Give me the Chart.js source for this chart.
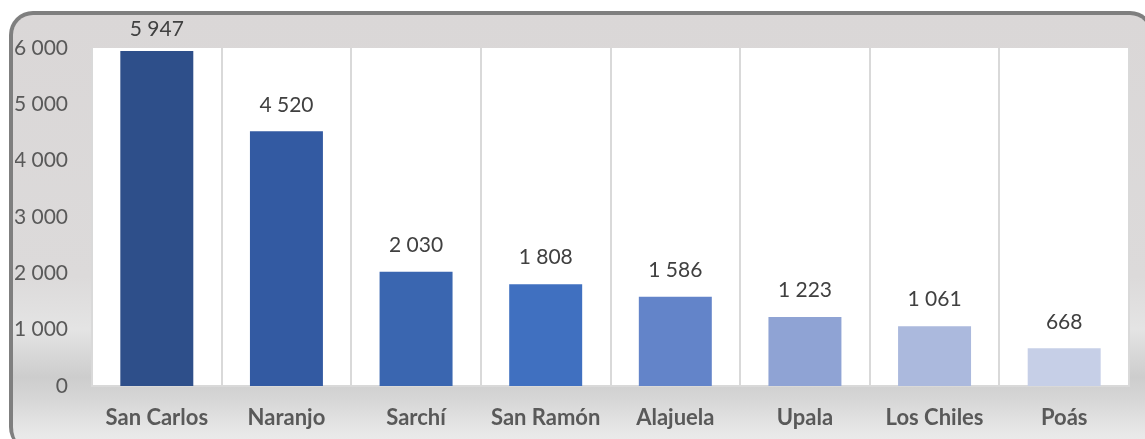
<!DOCTYPE html>
<html>
<head>
<meta charset="utf-8">
<script src="https://cdn.jsdelivr.net/npm/chart.js@4/dist/chart.umd.min.js"></script>
<style>
  html, body { margin: 0; padding: 0; background: #ffffff; }
  body { width: 1145px; height: 439px; overflow: hidden; position: relative; }
  #marco {
    position: absolute; left: 9px; top: 11px; width: 1145px; height: 440px;
    box-sizing: border-box;
    border-top: 4px solid #7f7f7f; border-left: 4px solid #7f7f7f; border-right: 4px solid #7f7f7f;
    border-radius: 24px 24px 0 24px;
    background: linear-gradient(to bottom, #dad7d7 0%, #dcdada 60%, #e4e4e4 72%, #cdcdcd 83%, #d6d6d6 88%, #e8e8e8 96%, #eeeeee 100%);
  }
  #lienzo { position: absolute; left: 0; top: 0; }
</style>
</head>
<body>
<div id="marco"></div>
<canvas id="lienzo" width="1145" height="439"></canvas>
<script>
const cantones = ["San Carlos", "Naranjo", "Sarchí", "San Ramón", "Alajuela", "Upala", "Los Chiles", "Poás"];
const valores = [5947, 4520, 2030, 1808, 1586, 1223, 1061, 668];
const colores = ["#2e4f8a", "#335aa2", "#3a66b0", "#4070c0", "#6384c9", "#8fa3d4", "#abb9dd", "#c6cfe7"];
const marcasY = [0, 1000, 2000, 3000, 4000, 5000, 6000];

function conEspacios(n) {
  return String(n).replace(/\B(?=(\d{3})+(?!\d))/g, " ");
}

const fondoBlanco = {
  id: "fondoBlanco",
  beforeDraw(chart) {
    const a = chart.chartArea;
    const ctx = chart.ctx;
    ctx.save();
    ctx.fillStyle = "#ffffff";
    ctx.fillRect(a.left, a.top, a.right - a.left, a.bottom - a.top);
    ctx.restore();
  }
};

const etiquetas = {
  id: "etiquetas",
  afterDatasetsDraw(chart) {
    const ctx = chart.ctx;
    const meta = chart.getDatasetMeta(0);
    ctx.save();
    ctx.font = "21px Lato";
    ctx.fillStyle = "#404040";
    ctx.textAlign = "center";
    ctx.textBaseline = "bottom";
    meta.data.forEach((bar, i) => {
      const y = Math.max(bar.y - 16, 40);
      ctx.fillText(conEspacios(valores[i]), bar.x, y);
    });
    ctx.restore();
  }
};

new Chart(document.getElementById("lienzo"), {
  type: "bar",
  data: {
    labels: cantones,
    datasets: [{
      data: valores,
      backgroundColor: colores,
      barPercentage: 0.563,
      categoryPercentage: 1
    }]
  },
  options: {
    responsive: false,
    animation: false,
    events: [],
    layout: { padding: { top: 48, right: 16, left: 15, bottom: 0 } },
    plugins: { legend: { display: false }, tooltip: { enabled: false } },
    scales: {
      x: {
        grid: { display: true, offset: true, color: "#d9d9d9", lineWidth: 2, drawTicks: false },
        border: { display: true, color: "#d9d9d9", width: 2 },
        ticks: { color: "#595959", font: { family: "Lato", size: 22, weight: "bold" }, padding: 19 },
        afterFit(scale) { scale.height = 53; }
      },
      y: {
        min: 0,
        max: 6000,
        afterBuildTicks(scale) { scale.ticks = marcasY.map(v => ({ value: v })); },
        grid: { display: false, drawTicks: false },
        border: { display: false },
        ticks: {
          color: "#595959",
          font: { family: "Lato", size: 21 },
          padding: 24,
          callback: v => conEspacios(v)
        },
        afterFit(scale) { scale.width = 77; }
      }
    }
  },
  plugins: [fondoBlanco, etiquetas]
});
</script>
</body>
</html>
